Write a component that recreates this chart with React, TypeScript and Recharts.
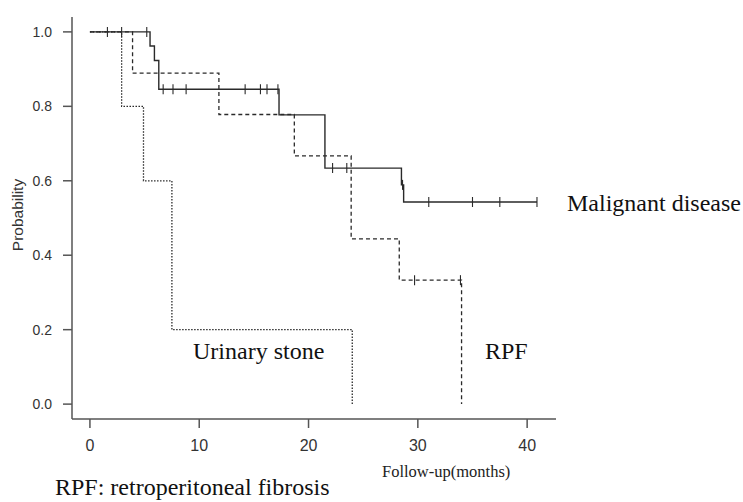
import React from 'react';
import { ComposedChart, Line, Scatter, XAxis, YAxis } from 'recharts';

// Kaplan-Meier steps (time in months, survival probability)
const malignantTime = [0, 5.5, 5.9, 6.3, 17.3, 21.5, 28.5, 28.7, 40.9];
const malignantSurv = [1, 0.962, 0.923, 0.846, 0.777, 0.634, 0.589, 0.543, 0.543];
const malignantCensor = [1.6, 2.9, 5.2, 6.7, 7.6, 8.8, 14.2, 15.6, 16.2, 17.2, 22.2, 23.5, 28.6, 31.0, 35.0, 37.5, 40.9];

const rpfTime = [0, 3.9, 11.8, 18.7, 23.9, 28.3, 34.0];
const rpfSurv = [1, 0.889, 0.778, 0.667, 0.444, 0.333, 0];
const rpfCensor = [29.7, 33.9];

const stoneTime = [0, 2.9, 4.9, 7.5, 24.0];
const stoneSurv = [1, 0.8, 0.6, 0.2, 0];

const xTicks = [0, 10, 20, 30, 40];
const yTicks = [0, 0.2, 0.4, 0.6, 0.8, 1.0];

const toPoints = (t: number[], s: number[]) => t.map((x, i) => ({ t: x, s: s[i] }));

// survival value at a censoring time (step function lookup)
const censorPoints = (c: number[], t: number[], s: number[]) =>
  c.map((x) => {
    let v = s[0];
    t.forEach((tt, i) => {
      if (tt <= x) v = s[i];
    });
    return { t: x, s: v };
  });

const malignant = toPoints(malignantTime, malignantSurv);
const rpf = toPoints(rpfTime, rpfSurv);
const stone = toPoints(stoneTime, stoneSurv);
const malignantMarks = censorPoints(malignantCensor, malignantTime, malignantSurv);
const rpfMarks = censorPoints(rpfCensor, rpfTime, rpfSurv);

const LINE = '#2a2a2a';
const AXIS = '#555';
const serif = '"Liberation Serif", "DejaVu Serif", serif';
const sans = '"Liberation Sans", Arial, sans-serif';

const CensorTick = (props: any) => {
  const { cx, cy } = props;
  if (cx == null || cy == null) return null;
  return <line x1={cx} x2={cx} y1={cy - 5} y2={cy + 5} stroke={LINE} strokeWidth={1.1} />;
};

const note = (left: number, top: number, size: number, text: string, extra: React.CSSProperties = {}) => (
  <div
    style={{
      position: 'absolute',
      left,
      top,
      transform: 'translateY(-50%)',
      fontFamily: serif,
      fontSize: size,
      lineHeight: 1,
      color: '#111',
      whiteSpace: 'nowrap',
      ...extra,
    }}
  >
    {text}
  </div>
);

export default function App() {
  return (
    <div style={{ position: 'fixed', left: 0, top: 0, width: 743, height: 502, background: '#fff' }}>
      <ComposedChart width={743} height={502} margin={{ top: 17, right: 187, bottom: 53, left: 22 }}>
        <XAxis
          type="number"
          dataKey="t"
          domain={[-1.64, 42.64]}
          ticks={xTicks}
          allowDataOverflow
          height={30}
          tickSize={9}
          tickMargin={12}
          stroke={AXIS}
          strokeWidth={1.5}
          tick={{ fill: '#333', fontSize: 16, fontFamily: sans }}
        />
        <YAxis
          type="number"
          dataKey="s"
          domain={[-0.04, 1.04]}
          ticks={yTicks}
          allowDataOverflow
          width={50}
          tickSize={9}
          tickMargin={11}
          stroke={AXIS}
          strokeWidth={1.5}
          tickFormatter={(v: number) => v.toFixed(1)}
          tick={{ fill: '#333', fontSize: 14, fontFamily: sans }}
        />
        <Line data={stone} dataKey="s" type="stepAfter" stroke={LINE} strokeWidth={1.3} strokeDasharray="1.5 1.5" dot={false} isAnimationActive={false} />
        <Line data={rpf} dataKey="s" type="stepAfter" stroke={LINE} strokeWidth={1.3} strokeDasharray="4 3" dot={false} isAnimationActive={false} />
        <Line data={malignant} dataKey="s" type="stepAfter" stroke={LINE} strokeWidth={1.4} dot={false} isAnimationActive={false} />
        <Scatter data={malignantMarks} dataKey="s" shape={CensorTick} isAnimationActive={false} />
        <Scatter data={rpfMarks} dataKey="s" shape={CensorTick} isAnimationActive={false} />
      </ComposedChart>

      <div style={{ position: 'absolute', left: 18, top: 215, transform: 'translate(-50%, -50%) rotate(-90deg)', fontFamily: sans, fontSize: 15.5, lineHeight: 1, color: '#333', whiteSpace: 'nowrap' }}>
        Probability
      </div>
      {note(567, 203, 24, 'Malignant disease')}
      {note(193, 351, 24, 'Urinary stone')}
      {note(485, 351, 24, 'RPF')}
      {note(382, 472, 16.5, 'Follow-up(months)', { color: '#222' })}
      {note(55, 487, 24, 'RPF: retroperitoneal fibrosis')}
    </div>
  );
}
